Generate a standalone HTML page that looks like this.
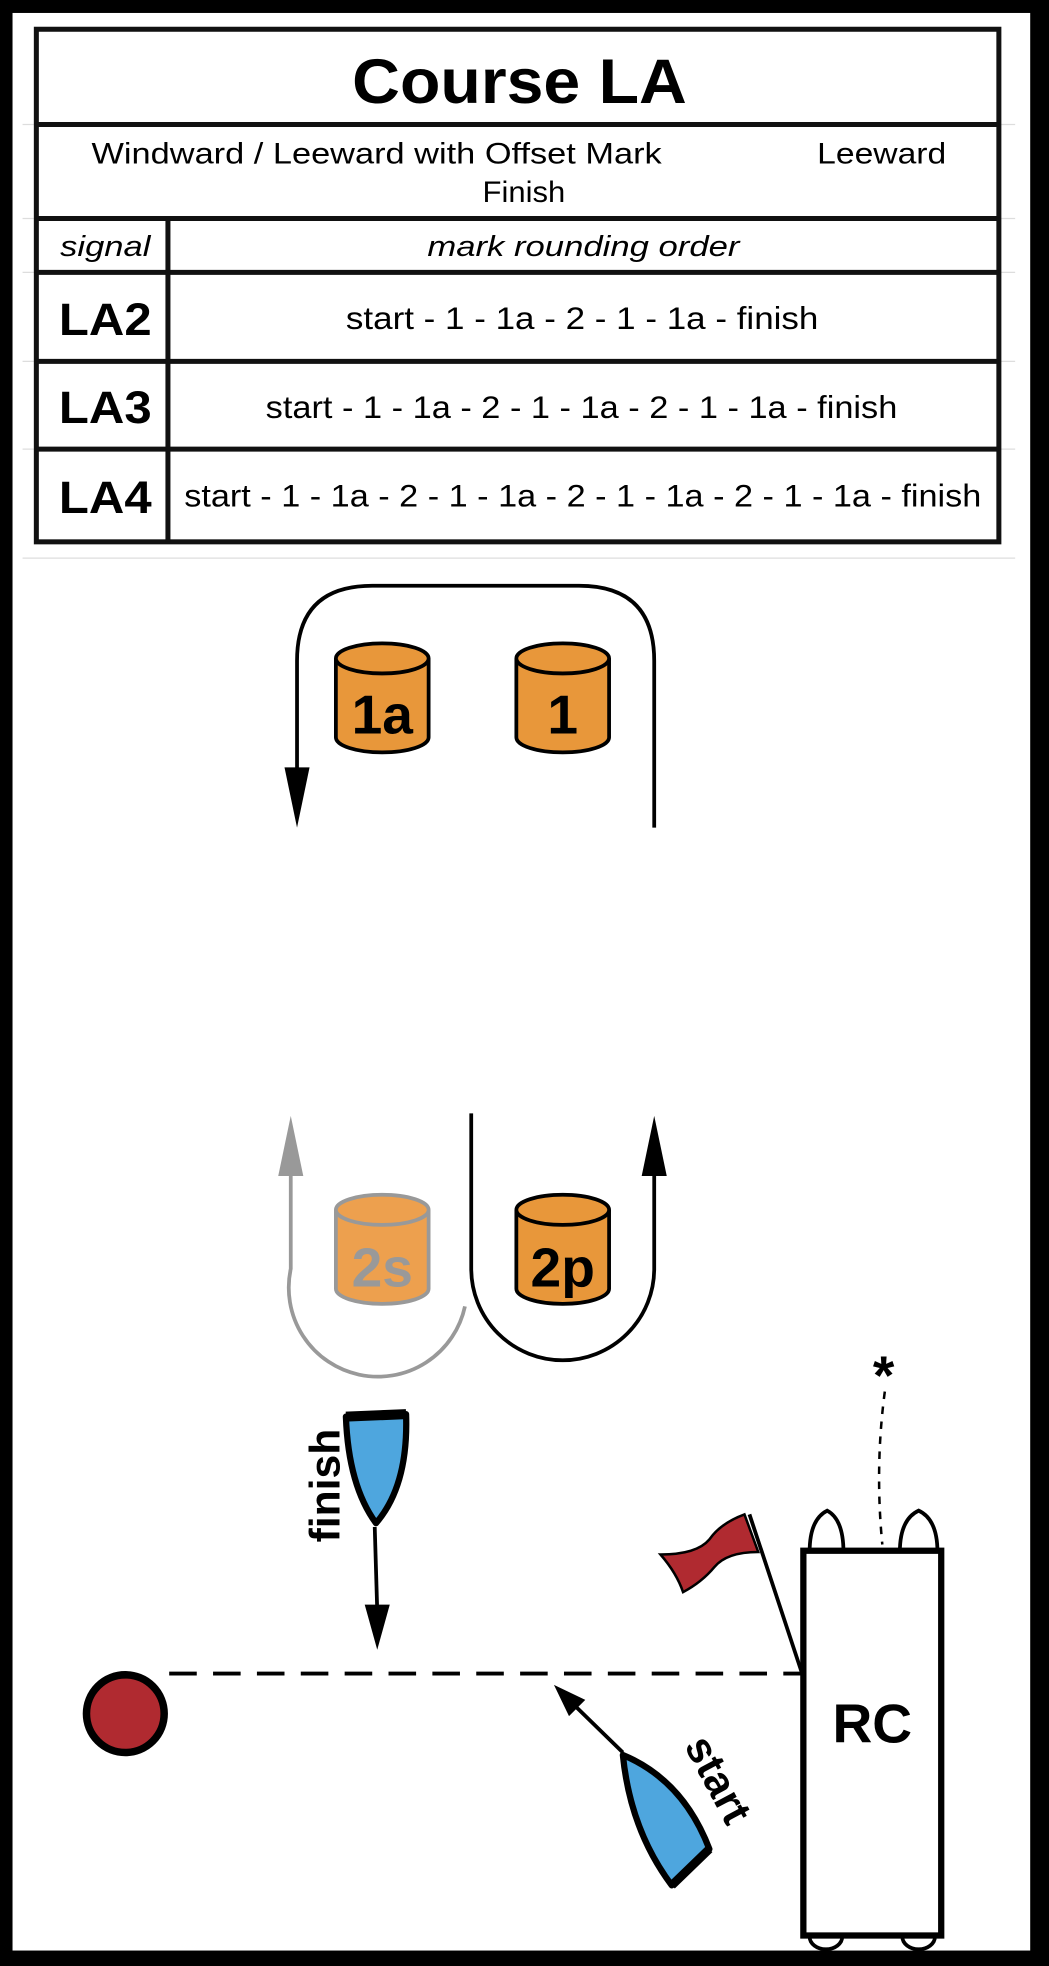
<!DOCTYPE html>
<html><head><meta charset="utf-8"><style>
html,body{margin:0;padding:0;background:#000;}
svg{display:block}
text{font-family:"Liberation Sans",Arial,sans-serif;}
</style></head><body>
<svg width="1049" height="1966" viewBox="0 0 837 1568" xmlns="http://www.w3.org/2000/svg">
<rect x="0" y="0" width="837" height="1568" fill="#000"/>
<rect x="10" y="10" width="812" height="1546" fill="#fff"/>
<g stroke="#ddd" stroke-width="1">
<line x1="18" y1="445" x2="810" y2="445"/>
<line x1="18" y1="99" x2="810" y2="99"/>
<line x1="18" y1="174" x2="810" y2="174"/>
<line x1="18" y1="217" x2="810" y2="217"/>
<line x1="18" y1="288" x2="810" y2="288"/>
<line x1="18" y1="358" x2="810" y2="358"/>
</g>
<g stroke="#111" stroke-width="4" fill="none">
<rect x="29" y="23" width="768" height="409"/>
<line x1="29" y1="99" x2="797" y2="99"/>
<line x1="29" y1="174" x2="797" y2="174"/>
<line x1="29" y1="217" x2="797" y2="217"/>
<line x1="29" y1="288" x2="797" y2="288"/>
<line x1="29" y1="358" x2="797" y2="358"/>
<line x1="134" y1="174" x2="134" y2="432"/>
</g>
<text x="281" y="82" font-size="50" font-weight="bold" textLength="267" lengthAdjust="spacingAndGlyphs">Course LA</text>
<text x="73" y="130" font-size="24" textLength="455" lengthAdjust="spacingAndGlyphs">Windward / Leeward with Offset Mark</text>
<text x="652" y="130" font-size="24" textLength="103" lengthAdjust="spacingAndGlyphs">Leeward</text>
<text x="385" y="161" font-size="24" textLength="66" lengthAdjust="spacingAndGlyphs">Finish</text>
<text x="48" y="204" font-size="23" font-style="italic" textLength="72" lengthAdjust="spacingAndGlyphs">signal</text>
<text x="341" y="204" font-size="23" font-style="italic" textLength="249" lengthAdjust="spacingAndGlyphs">mark rounding order</text>
<g font-size="36" font-weight="bold">
<text x="47" y="267" textLength="74" lengthAdjust="spacingAndGlyphs">LA2</text>
<text x="47" y="337" textLength="74" lengthAdjust="spacingAndGlyphs">LA3</text>
<text x="47" y="409" textLength="74" lengthAdjust="spacingAndGlyphs">LA4</text>
</g>
<g font-size="25">
<text x="276" y="262" textLength="377" lengthAdjust="spacingAndGlyphs">start - 1 - 1a - 2 - 1 - 1a -  finish</text>
<text x="212" y="333" textLength="504" lengthAdjust="spacingAndGlyphs">start - 1 - 1a - 2 - 1 - 1a - 2 - 1 - 1a - finish</text>
<text x="147" y="404" textLength="636" lengthAdjust="spacingAndGlyphs">start - 1 - 1a - 2 - 1 - 1a - 2 - 1 - 1a - 2 - 1 - 1a - finish</text>
</g>
<path d="M237 620 V527 Q237 467 297 467 H462 Q522 467 522 527 V660" fill="none" stroke="#000" stroke-width="3"/>
<polygon points="227,612 247,612 237,660" fill="#000"/>
<g stroke="#000" stroke-width="3">
<path d="M268 525 V588 A37 12 0 0 0 342 588 V525" fill="#E8973A"/>
<ellipse cx="305" cy="525" rx="37" ry="12" fill="#E8973A"/>
<path d="M412 525 V588 A37 12 0 0 0 486 588 V525" fill="#E8973A"/>
<ellipse cx="449" cy="525" rx="37" ry="12" fill="#E8973A"/>
</g>
<text x="305" y="585" text-anchor="middle" font-size="44" font-weight="bold">1a</text>
<text x="449" y="585" text-anchor="middle" font-size="44" font-weight="bold">1</text>
<g stroke="#999" stroke-width="3">
<path d="M268 965 V1028 A37 12 0 0 0 342 1028 V965" fill="#EDA04E"/>
<ellipse cx="305" cy="965" rx="37" ry="12" fill="#EDA04E"/>
</g>
<text x="305" y="1026" text-anchor="middle" font-size="44" font-weight="bold" fill="#999">2s</text>
<g stroke="#000" stroke-width="3">
<path d="M412 965 V1028 A37 12 0 0 0 486 1028 V965" fill="#E8973A"/>
<ellipse cx="449" cy="965" rx="37" ry="12" fill="#E8973A"/>
</g>
<text x="449" y="1026" text-anchor="middle" font-size="44" font-weight="bold">2p</text>
<path d="M371 1042 A70 70 0 0 1 232 1012 V935" fill="none" stroke="#999" stroke-width="3"/>
<polygon points="222,938 242,938 232,890" fill="#999"/>
<path d="M376 888 V1012 A73 73 0 0 0 522 1012 V935" fill="none" stroke="#000" stroke-width="3"/>
<polygon points="512,938 532,938 522,890" fill="#000"/>
<path d="M276 1130 L324 1128 Q326 1185 300 1215 Q278 1185 276 1130 Z" fill="#4EA6DE" stroke="#000" stroke-width="5" stroke-linejoin="round"/>
<line x1="276" y1="1130" x2="324" y2="1128" stroke="#000" stroke-width="8"/>
<text transform="translate(271,1185) rotate(-90)" text-anchor="middle" font-size="34" font-weight="bold">finish</text>
<line x1="299" y1="1218" x2="301" y2="1285" stroke="#000" stroke-width="3"/>
<polygon points="291,1280 311,1280 301,1316" fill="#000"/>
<line x1="135" y1="1335" x2="640" y2="1335" stroke="#000" stroke-width="3" stroke-dasharray="22,13"/>
<circle cx="100" cy="1367" r="31" fill="#B02A30" stroke="#000" stroke-width="6"/>
<line x1="497" y1="1398" x2="458" y2="1360" stroke="#000" stroke-width="3"/>
<polygon points="442,1344 467,1356 454,1369" fill="#000"/>
<path d="M497 1400 Q545 1420 566 1475 L536 1504 Q503 1460 497 1400 Z" fill="#4EA6DE" stroke="#000" stroke-width="5" stroke-linejoin="round"/>
<line x1="566" y1="1475" x2="536" y2="1504" stroke="#000" stroke-width="7"/>
<text transform="translate(563,1425) rotate(62)" text-anchor="middle" font-size="34" font-weight="bold">start</text>
<path d="M646 1238 Q646 1212 660 1205 Q673 1212 673 1238" fill="#fff" stroke="#000" stroke-width="3"/>
<path d="M718 1238 Q718 1212 733 1205 Q748 1212 748 1238" fill="#fff" stroke="#000" stroke-width="3"/>
<path d="M646 1545 A13 10 0 0 0 672 1545" fill="#fff" stroke="#000" stroke-width="3"/>
<path d="M720 1545 A13 10 0 0 0 746 1545" fill="#fff" stroke="#000" stroke-width="3"/>
<rect x="641" y="1237" width="110" height="307" fill="#fff" stroke="#000" stroke-width="5"/>
<text x="696" y="1390" text-anchor="middle" font-size="44" font-weight="bold">RC</text>
<line x1="598" y1="1208" x2="640" y2="1335" stroke="#000" stroke-width="3"/>
<path d="M594 1208 Q575 1215 566 1228 Q556 1240 527 1240 Q540 1255 545 1270 Q560 1262 570 1250 Q580 1238 605 1238 Z" fill="#B02A30" stroke="#000" stroke-width="2"/>
<text x="705" y="1112" text-anchor="middle" font-size="44" font-weight="bold">*</text>
<path d="M706 1110 Q698 1170 704 1232" fill="none" stroke="#000" stroke-width="2" stroke-dasharray="6,6"/>
</svg>
</body></html>
